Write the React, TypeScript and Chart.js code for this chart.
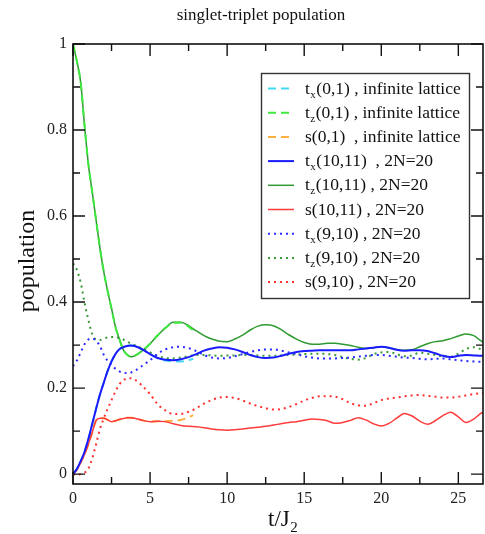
import React, { useEffect, useRef } from "react";
import { Chart, registerables } from "chart.js";

Chart.register(...registerables);

// time grid for the 2N=20 curves
const T = [0, 0.25, 0.5, 0.75, 1, 1.25, 1.5, 1.75, 2, 2.25, 2.5, 2.75, 3, 3.25, 3.5, 3.75, 4, 4.5, 5, 5.5, 6, 6.5, 7, 7.5, 8, 8.5, 9, 9.5, 10, 10.5, 11, 11.5, 12, 12.5, 13, 13.5, 14, 14.5, 15, 15.5, 16, 16.5, 17, 17.5, 18, 18.5, 19, 19.5, 20, 20.5, 21, 21.5, 22, 22.5, 23, 23.5, 24, 24.5, 25, 25.5, 26, 26.5, 27];
// time grid for the infinite-lattice curves
const TINF = [0, 0.25, 0.5, 0.75, 1, 1.25, 1.5, 1.75, 2, 2.25, 2.5, 2.75, 3, 3.25, 3.5, 3.75, 4, 4.5, 5, 5.5, 6, 6.5, 7, 7.5, 7.8];

const txInf = [0, 0.012, 0.03, 0.052, 0.082, 0.117, 0.152, 0.185, 0.213, 0.24, 0.262, 0.279, 0.29, 0.295, 0.298, 0.299, 0.298, 0.29, 0.279, 0.269, 0.264, 0.262, 0.262, 0.265, 0.268];
const tzInf = [1.0, 0.96, 0.91, 0.81, 0.72, 0.655, 0.59, 0.525, 0.47, 0.425, 0.385, 0.343, 0.315, 0.29, 0.278, 0.273, 0.275, 0.287, 0.303, 0.323, 0.34, 0.352, 0.352, 0.343, 0.334];
const sInf = [0, 0.01, 0.027, 0.046, 0.07, 0.097, 0.125, 0.13, 0.13, 0.126, 0.122, 0.124, 0.127, 0.129, 0.131, 0.131, 0.13, 0.125, 0.122, 0.123, 0.123, 0.124, 0.126, 0.132, 0.137];

const tx1011 = [0, 0.012, 0.03, 0.052, 0.082, 0.117, 0.152, 0.185, 0.213, 0.24, 0.262, 0.279, 0.29, 0.295, 0.298, 0.299, 0.298, 0.29, 0.279, 0.27, 0.266, 0.265, 0.267, 0.272, 0.279, 0.287, 0.292, 0.295, 0.294, 0.29, 0.284, 0.277, 0.272, 0.27, 0.271, 0.275, 0.28, 0.284, 0.286, 0.287, 0.288, 0.288, 0.288, 0.288, 0.288, 0.29, 0.292, 0.294, 0.296, 0.294, 0.289, 0.287, 0.288, 0.288, 0.286, 0.281, 0.275, 0.272, 0.275, 0.277, 0.276, 0.275, 0.275];
const tz1011 = [1.0, 0.96, 0.91, 0.81, 0.72, 0.655, 0.59, 0.525, 0.47, 0.425, 0.385, 0.343, 0.315, 0.29, 0.278, 0.273, 0.275, 0.287, 0.303, 0.323, 0.34, 0.353, 0.353, 0.345, 0.333, 0.322, 0.314, 0.309, 0.308, 0.314, 0.323, 0.335, 0.344, 0.347, 0.345, 0.336, 0.324, 0.314, 0.306, 0.302, 0.302, 0.304, 0.304, 0.302, 0.299, 0.295, 0.292, 0.294, 0.296, 0.293, 0.29, 0.288, 0.289, 0.296, 0.303, 0.308, 0.31, 0.315, 0.321, 0.326, 0.322, 0.309, 0.302];
const s1011 = [0, 0.01, 0.027, 0.046, 0.07, 0.097, 0.125, 0.13, 0.13, 0.126, 0.122, 0.124, 0.127, 0.129, 0.131, 0.131, 0.13, 0.125, 0.122, 0.123, 0.122, 0.117, 0.113, 0.111, 0.11, 0.108, 0.105, 0.103, 0.102, 0.103, 0.105, 0.107, 0.109, 0.111, 0.114, 0.117, 0.12, 0.122, 0.125, 0.128, 0.127, 0.124, 0.118, 0.12, 0.125, 0.131, 0.126, 0.117, 0.112, 0.118, 0.13, 0.141, 0.135, 0.123, 0.116, 0.124, 0.136, 0.144, 0.133, 0.12, 0.128, 0.142, 0.146];

const tx910 = [0.251, 0.264, 0.283, 0.302, 0.313, 0.315, 0.31, 0.297, 0.277, 0.263, 0.253, 0.245, 0.239, 0.236, 0.235, 0.236, 0.24, 0.252, 0.265, 0.28, 0.29, 0.295, 0.296, 0.293, 0.286, 0.277, 0.271, 0.269, 0.27, 0.274, 0.279, 0.284, 0.288, 0.29, 0.29, 0.287, 0.283, 0.279, 0.274, 0.271, 0.269, 0.269, 0.269, 0.27, 0.271, 0.273, 0.275, 0.277, 0.277, 0.275, 0.273, 0.271, 0.27, 0.268, 0.267, 0.268, 0.269, 0.267, 0.265, 0.263, 0.262, 0.261, 0.261];
const tz910 = [0.49, 0.475, 0.445, 0.398, 0.358, 0.325, 0.313, 0.312, 0.315, 0.318, 0.319, 0.319, 0.316, 0.313, 0.308, 0.304, 0.3, 0.292, 0.283, 0.275, 0.27, 0.269, 0.271, 0.274, 0.277, 0.277, 0.276, 0.275, 0.276, 0.276, 0.277, 0.277, 0.276, 0.275, 0.275, 0.276, 0.277, 0.278, 0.279, 0.28, 0.28, 0.279, 0.277, 0.272, 0.268, 0.266, 0.27, 0.279, 0.283, 0.284, 0.279, 0.274, 0.276, 0.282, 0.28, 0.277, 0.274, 0.273, 0.28, 0.291, 0.295, 0.29, 0.284];
const s910 = [0, -0.002, 0, 0.003, 0.013, 0.037, 0.07, 0.105, 0.13, 0.152, 0.172, 0.192, 0.208, 0.218, 0.222, 0.223, 0.22, 0.205, 0.186, 0.162, 0.148, 0.14, 0.14, 0.145, 0.153, 0.164, 0.172, 0.178, 0.179, 0.177, 0.171, 0.164, 0.158, 0.153, 0.15, 0.151, 0.156, 0.163, 0.171, 0.177, 0.181, 0.181, 0.18, 0.174, 0.165, 0.16, 0.159, 0.165, 0.172, 0.176, 0.178, 0.181, 0.183, 0.184, 0.182, 0.18, 0.178, 0.178, 0.18, 0.183, 0.186, 0.188, 0.19];

const X_TICKS = [0, 5, 10, 15, 20, 25];
const Y_TICKS = [0, 0.2, 0.4, 0.6, 0.8, 1];

const TITLE = "singlet-triplet population";
const Y_LABEL = "population";

const SERIF = "'Liberation Serif', 'Times New Roman', Times, serif";

const pts = (ts: number[], vs: number[]) => vs.map((v, i) => ({ x: ts[i], y: v }));

const DASH = [8, 5];
const DOT = [2, 4];

const framePlugin = {
  id: "frameAndText",
  afterDraw(chart: any) {
    const { ctx, chartArea: a, scales } = chart;
    const xs = scales.x;
    const ys = scales.y;
    ctx.save();
    // frame
    ctx.strokeStyle = "#111";
    ctx.lineWidth = 1.6;
    ctx.setLineDash([]);
    ctx.strokeRect(a.left, a.top, a.right - a.left, a.bottom - a.top);
    // inward ticks
    ctx.lineWidth = 1.4;
    ctx.beginPath();
    for (let k = 0; k <= 10; k++) {
      const v = k * 2.5;
      if (v > xs.max) break;
      const px = xs.getPixelForValue(v);
      const len = k % 2 === 0 ? 12 : 7;
      ctx.moveTo(px, a.bottom);
      ctx.lineTo(px, a.bottom - len);
      ctx.moveTo(px, a.top);
      ctx.lineTo(px, a.top + len);
    }
    for (let k = 0; k <= 10; k++) {
      const v = k * 0.1;
      const py = ys.getPixelForValue(v);
      const len = k % 2 === 0 ? 12 : 7;
      ctx.moveTo(a.left, py);
      ctx.lineTo(a.left + len, py);
      ctx.moveTo(a.right, py);
      ctx.lineTo(a.right - len, py);
    }
    ctx.stroke();

    // title
    ctx.fillStyle = "#111";
    ctx.font = `17px ${SERIF}`;
    ctx.textAlign = "center";
    ctx.textBaseline = "alphabetic";
    ctx.fillText(TITLE, 261, 20);

    // y label
    ctx.save();
    ctx.translate(34, 261);
    ctx.rotate(-Math.PI / 2);
    ctx.font = `24px ${SERIF}`;
    ctx.textAlign = "center";
    ctx.fillText(Y_LABEL, 0, 0);
    ctx.restore();

    // x label t/J2
    ctx.textAlign = "left";
    ctx.font = `23px ${SERIF}`;
    const main = "t/J";
    ctx.fillText(main, 268, 526);
    const w = ctx.measureText(main).width;
    ctx.font = `15px ${SERIF}`;
    ctx.fillText("2", 268 + w + 0.5, 532);

    // legend
    const lx = 261, ly = 73, lw = 208, lh = 225;
    ctx.fillStyle = "#fff";
    ctx.fillRect(lx, ly, lw, lh);
    ctx.strokeStyle = "#333";
    ctx.lineWidth = 1.4;
    ctx.strokeRect(lx + 0.5, ly + 0.5, lw, lh);
    chart.data.datasets.forEach((ds: any, i: number) => {
      const y = 88.5 + i * 24.2;
      ctx.strokeStyle = ds.borderColor;
      ctx.lineWidth = ds.borderWidth;
      ctx.setLineDash(ds.borderDash || []);
      ctx.beginPath();
      ctx.moveTo(268, y);
      ctx.lineTo(294, y);
      ctx.stroke();
      ctx.setLineDash([]);
      ctx.fillStyle = "#111";
      const m = /^(\w)_(\w)(.*)$/.exec(ds.label);
      let x = 305;
      const base = y + 5;
      ctx.textAlign = "left";
      if (m) {
        ctx.font = `17.5px ${SERIF}`;
        ctx.fillText(m[1], x, base);
        x += ctx.measureText(m[1]).width;
        ctx.font = `11px ${SERIF}`;
        ctx.fillText(m[2], x + 0.5, base + 4);
        x += ctx.measureText(m[2]).width + 1;
        ctx.font = `17.5px ${SERIF}`;
        ctx.fillText(m[3], x, base);
      } else {
        ctx.font = `17.5px ${SERIF}`;
        ctx.fillText(ds.label, x, base);
      }
    });
    ctx.restore();
  },
};

export default function App() {
  const ref = useRef<HTMLCanvasElement | null>(null);
  useEffect(() => {
    document.body.style.margin = "0";
    if (!ref.current) return;
    const mk = (label: string, ts: number[], vs: number[], color: string, width: number, dash: number[], order: number) => ({
      label,
      data: pts(ts, vs),
      borderColor: color,
      backgroundColor: color,
      borderWidth: width,
      borderDash: dash,
      pointRadius: 0,
      fill: false,
      order,
      cubicInterpolationMode: "monotone" as const,
    });
    const chart = new Chart(ref.current, {
      type: "line",
      data: {
        datasets: [
          mk("t_x(0,1) , infinite lattice", TINF, txInf, "#40d8f0", 2, DASH, 2),
          mk("t_z(0,1) , infinite lattice", TINF, tzInf, "#3ee83e", 2, DASH, 0),
          mk("s(0,1)  , infinite lattice", TINF, sInf, "#ffb040", 2, DASH, 2),
          mk("t_x(10,11)  , 2N=20", T, tx1011, "#1a1aff", 2, [], 1),
          mk("t_z(10,11) , 2N=20", T, tz1011, "#2f9a2f", 1.5, [], 1),
          mk("s(10,11) , 2N=20", T, s1011, "#ff3b3b", 1.5, [], 1),
          mk("t_x(9,10) , 2N=20", T, tx910, "#2a2aff", 2, DOT, 1),
          mk("t_z(9,10) , 2N=20", T, tz910, "#3a9a3a", 2, DOT, 1),
          mk("s(9,10) , 2N=20", T, s910, "#ff3030", 2, DOT, 1),
        ],
      },
      options: {
        animation: false,
        responsive: true,
        maintainAspectRatio: false,
        layout: { padding: { left: 0, top: 44, right: 2, bottom: 0 } },
        plugins: { legend: { display: false }, title: { display: false }, tooltip: { enabled: false } },
        scales: {
          x: {
            type: "linear",
            min: 0,
            max: 26.6,
            grid: { display: false, drawTicks: false },
            border: { display: false },
            afterFit: (s: any) => { s.height = 50; },
            ticks: {
              stepSize: 5,
              includeBounds: false,
              padding: 5,
              color: "#222",
              font: { family: SERIF, size: 16 },
              maxRotation: 0,
              callback: (v: any) => (X_TICKS.includes(Number(v)) ? String(v) : ""),
            },
          },
          y: {
            type: "linear",
            min: -0.023,
            max: 1.0,
            grid: { display: false, drawTicks: false },
            border: { display: false },
            afterFit: (s: any) => { s.width = 73; },
            ticks: {
              stepSize: 0.2,
              includeBounds: false,
              padding: 6,
              color: "#222",
              font: { family: SERIF, size: 16 },
              callback: (v: any) => {
                const n = Number(Number(v).toFixed(1));
                return Y_TICKS.includes(n) ? String(n) : "";
              },
            },
          },
        },
      },
      plugins: [framePlugin],
    });
    return () => chart.destroy();
  }, []);
  return (
    <div style={{ position: "absolute", left: 0, top: 0, width: 485, height: 534, background: "#fff" }}>
      <canvas ref={ref} />
    </div>
  );
}
